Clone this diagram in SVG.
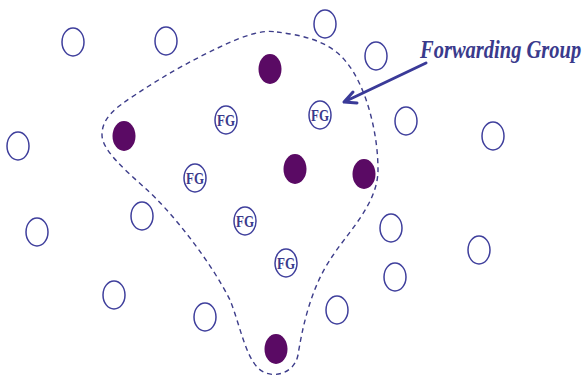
<svg xmlns="http://www.w3.org/2000/svg" width="586" height="380" viewBox="0 0 586 380">
<defs>
<style>
.n{fill:#fff;stroke:#3f3f9c;stroke-width:1.5}
.f{fill:#5a0a64;stroke:none}
.fgt{font-family:"Liberation Serif",serif;font-weight:bold;font-size:16px;fill:#3a3a8c;text-anchor:middle}
.lbl{font-family:"Liberation Serif",serif;font-weight:bold;font-style:italic;font-size:25px;fill:#3a3a8c}
.grp{fill:none;stroke:#3d3d8a;stroke-width:1.4;stroke-dasharray:5 4}
.arr{fill:none;stroke:#3a3a98;stroke-width:3;stroke-linecap:round;stroke-linejoin:round}
</style>
</defs>
<rect width="586" height="380" fill="#fff"/>
<g id="connectors">
<path id="group-boundary" class="grp" d="M 277 32 C 300 35 330 40 347 63 C 365 85 378 130 378 170 C 378 205 345 235 330 260 C 310 290 302 330 298 355 C 294 375 270 380 258 368 C 245 355 240 325 230 300 C 210 260 170 210 145 188 C 125 170 102 150 102 135 C 102 118 115 108 135 95 C 165 75 200 55 240 38 C 255 33 265 30 277 32 Z"/>
<path id="label-arrow" class="arr" d="M 426 63 L 344 102 M 353 92 L 344 102 L 357 103"/>
</g>
<g id="label" transform="translate(420 58) scale(0.82 1)"><text class="lbl" x="0" y="0">Forwarding Group</text></g>
<g id="n1"><ellipse class="n" cx="73" cy="42" rx="11" ry="14"/></g>
<g id="n2"><ellipse class="n" cx="166" cy="41" rx="11" ry="14"/></g>
<g id="n3"><ellipse class="n" cx="325" cy="24" rx="11" ry="14"/></g>
<g id="n4"><ellipse class="n" cx="376" cy="56" rx="11" ry="14"/></g>
<g id="n5"><ellipse class="n" cx="18" cy="146" rx="11" ry="14"/></g>
<g id="n6"><ellipse class="n" cx="406" cy="121" rx="11" ry="14"/></g>
<g id="n7"><ellipse class="n" cx="493" cy="136" rx="11" ry="14"/></g>
<g id="n8"><ellipse class="n" cx="37" cy="232" rx="11" ry="14"/></g>
<g id="n9"><ellipse class="n" cx="142" cy="216" rx="11" ry="14"/></g>
<g id="n10"><ellipse class="n" cx="114" cy="295" rx="11" ry="14"/></g>
<g id="n11"><ellipse class="n" cx="205" cy="317" rx="11" ry="14"/></g>
<g id="n12"><ellipse class="n" cx="391" cy="228" rx="11" ry="14"/></g>
<g id="n13"><ellipse class="n" cx="395" cy="277" rx="11" ry="14"/></g>
<g id="n14"><ellipse class="n" cx="479" cy="250" rx="11" ry="14"/></g>
<g id="n15"><ellipse class="n" cx="337" cy="310" rx="11" ry="14"/></g>
<g id="m1"><ellipse class="f" cx="270" cy="69" rx="11.5" ry="15"/></g>
<g id="m2"><ellipse class="f" cx="124" cy="136" rx="11.5" ry="15"/></g>
<g id="m3"><ellipse class="f" cx="295" cy="169" rx="11.5" ry="15"/></g>
<g id="m4"><ellipse class="f" cx="364" cy="174" rx="11.5" ry="15"/></g>
<g id="m5"><ellipse class="f" cx="276" cy="349" rx="11.5" ry="15"/></g>
<g id="fg1"><ellipse class="n" cx="226" cy="120" rx="11" ry="14"/><text class="fgt" x="226" y="126" textLength="18" lengthAdjust="spacingAndGlyphs">FG</text></g>
<g id="fg2"><ellipse class="n" cx="320" cy="115" rx="11" ry="14"/><text class="fgt" x="320" y="121" textLength="18" lengthAdjust="spacingAndGlyphs">FG</text></g>
<g id="fg3"><ellipse class="n" cx="195" cy="178" rx="11" ry="14"/><text class="fgt" x="195" y="184" textLength="18" lengthAdjust="spacingAndGlyphs">FG</text></g>
<g id="fg4"><ellipse class="n" cx="245" cy="221" rx="11" ry="14"/><text class="fgt" x="245" y="227" textLength="18" lengthAdjust="spacingAndGlyphs">FG</text></g>
<g id="fg5"><ellipse class="n" cx="286" cy="263" rx="11" ry="14"/><text class="fgt" x="286" y="269" textLength="18" lengthAdjust="spacingAndGlyphs">FG</text></g>
</svg>
